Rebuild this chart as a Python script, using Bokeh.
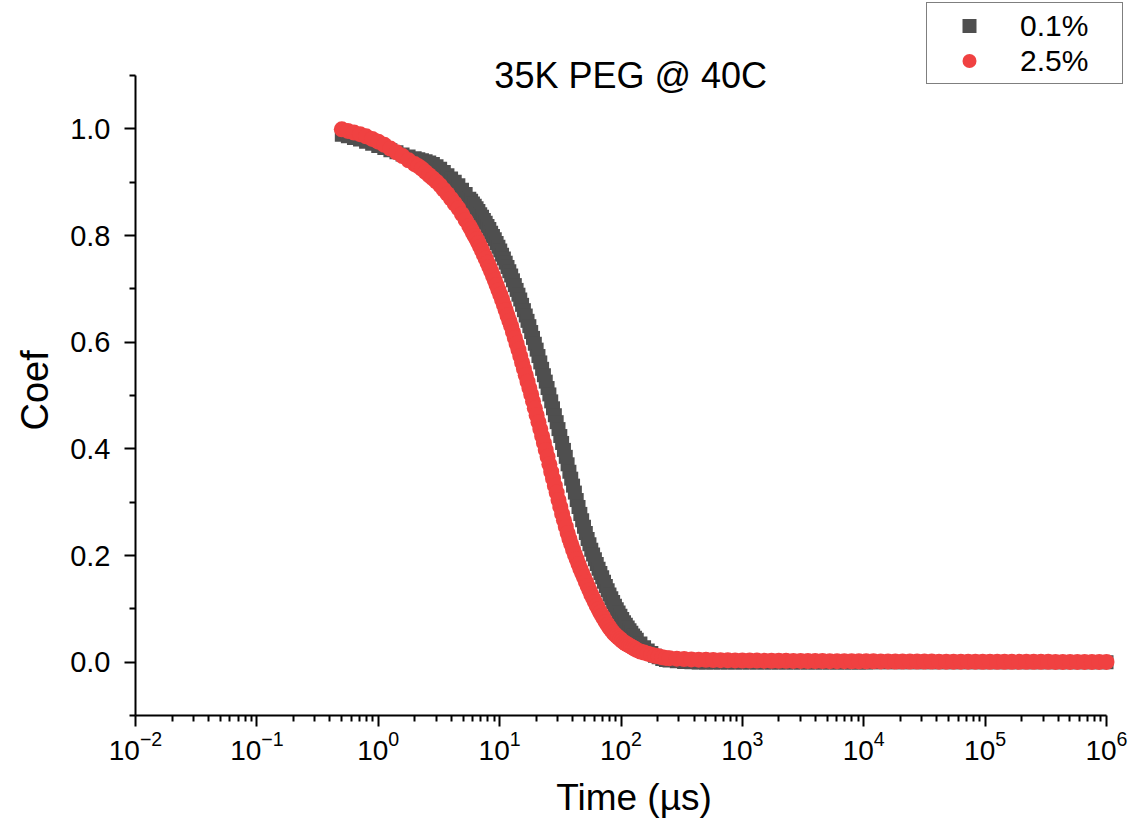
from bokeh.plotting import figure
from bokeh.models import (ColumnDataSource, FixedTicker, Legend, LegendItem,
                          Label, Title, PrintfTickFormatter)
from bokeh.embed import file_html
from bokeh.resources import INLINE

# ---------------------------------------------------------------- data
# correlator lag times (µs), shared by both samples
time_us = [
    0.501, 0.562, 0.631, 0.708, 0.794, 0.891, 1.000, 1.122, 1.259, 1.413, 1.585, 1.778,
    1.995, 2.138, 2.291, 2.455, 2.630, 2.818, 3.020, 3.236, 3.467, 3.715,
    3.981, 4.266, 4.571, 4.898, 5.248,
    5.623, 5.821, 6.026, 6.237, 6.457, 6.683, 6.918, 7.161, 7.413, 7.674,
    7.943, 8.222, 8.511, 8.810, 9.120, 9.441, 9.772, 10.12, 10.47, 10.84,
    11.22, 11.61, 12.02, 12.45, 12.88, 13.34, 13.80, 14.29, 14.79, 15.31,
    15.85, 16.41, 16.98, 17.58, 18.20, 18.84, 19.50, 20.18, 20.89, 21.63,
    22.39, 23.17, 23.99, 24.83, 25.70, 26.61, 27.54, 28.51, 29.51, 30.55,
    31.62, 32.73, 33.88, 35.08, 36.31, 37.58, 38.90, 40.27, 41.69, 43.15,
    44.67, 46.24, 47.86, 49.55, 51.29, 53.09, 54.95, 56.89, 58.88, 60.95,
    63.10, 65.31, 67.61, 69.98, 72.44, 74.99, 77.62, 80.35, 83.18, 86.10,
    89.13, 92.26, 95.50, 98.86, 102.3, 105.9, 109.6, 113.5, 117.5, 121.6,
    125.9, 130.3, 134.9,
    144.5, 154.9, 166.0, 177.8, 190.5, 204.2, 218.8, 234.4,
    251.2, 288.4, 331.1, 380.2, 436.5, 501.2, 575.4, 660.7, 758.6, 871.0,
    1000, 1148, 1318, 1514, 1738, 1995, 2291, 2630, 3020, 3467,
    3981, 4571, 5248, 6026, 6918, 7943, 9120, 10470, 12020, 13800,
    15850, 18200, 20890, 23990, 27540, 31620, 36310, 41690, 47860, 54950,
    63100, 72440, 83180, 95500, 109600, 125900, 144500, 166000, 190500, 218800,
    251200, 288400, 331100, 380200, 436500, 501200, 575400, 660700, 758600, 871000,
    1000000,
]

# correlation coefficient, 0.1 % PEG
coef_01 = [
    0.989, 0.986, 0.983, 0.980, 0.976, 0.972, 0.968, 0.964, 0.960, 0.956, 0.952, 0.948,
    0.945, 0.943, 0.941, 0.939, 0.937, 0.934, 0.930, 0.925, 0.919, 0.913,
    0.907, 0.901, 0.894, 0.886, 0.878,
    0.869, 0.865, 0.860, 0.856, 0.851, 0.846, 0.840, 0.835, 0.829, 0.824,
    0.818, 0.812, 0.805, 0.799, 0.793, 0.786, 0.779, 0.772, 0.764, 0.757,
    0.749, 0.741, 0.733, 0.725, 0.716, 0.707, 0.698, 0.689, 0.680, 0.670,
    0.660, 0.650, 0.640, 0.630, 0.619, 0.608, 0.597, 0.586, 0.574, 0.562,
    0.550, 0.538, 0.526, 0.514, 0.502, 0.489, 0.476, 0.463, 0.450, 0.437,
    0.424, 0.411, 0.398, 0.385, 0.371, 0.357, 0.344, 0.331, 0.318, 0.304,
    0.291, 0.278, 0.266, 0.254, 0.242, 0.231, 0.221, 0.211, 0.202, 0.193,
    0.184, 0.175, 0.167, 0.159, 0.151, 0.143, 0.135, 0.127, 0.120, 0.113,
    0.106, 0.099, 0.093, 0.087, 0.081, 0.075, 0.070, 0.065, 0.060, 0.055,
    0.050, 0.046, 0.042,
    0.035, 0.028, 0.022, 0.017, 0.012, 0.009, 0.006, 0.004,
    0.0030, 0.0015, 0.0005, 0.0000, -0.0004, -0.0006, -0.0007, -0.0008, -0.0008, -0.0008,
    -0.0008, -0.0007, -0.0007, -0.0007, -0.0006, -0.0006, -0.0006, -0.0006, -0.0005, -0.0005,
    -0.0005, -0.0005, -0.0005, -0.0004, -0.0004, -0.0004, -0.0004, -0.0004, -0.0003, -0.0003,
    -0.0003, -0.0003, -0.0003, -0.0003, -0.0002, -0.0002, -0.0002, -0.0002, -0.0002, -0.0002,
    -0.0002, -0.0001, -0.0001, -0.0001, -0.0001, -0.0001, -0.0001, -0.0001, 0.0000, 0.0000,
    0.0000, 0.0000, 0.0000, 0.0000, 0.0000, 0.0000, 0.0000, 0.0000, 0.0000, 0.0000,
    0.0000,
]

# correlation coefficient, 2.5 % PEG
coef_25 = [
    0.999, 0.996, 0.993, 0.990, 0.986, 0.981, 0.976, 0.970, 0.963, 0.956, 0.949, 0.941,
    0.934, 0.930, 0.925, 0.919, 0.913, 0.907, 0.901, 0.894, 0.886, 0.878,
    0.869, 0.860, 0.851, 0.840, 0.829,
    0.818, 0.812, 0.805, 0.799, 0.793, 0.786, 0.779, 0.772, 0.764, 0.757,
    0.749, 0.741, 0.733, 0.725, 0.716, 0.707, 0.698, 0.689, 0.680, 0.670,
    0.660, 0.650, 0.640, 0.630, 0.619, 0.608, 0.597, 0.586, 0.574, 0.562,
    0.550, 0.538, 0.526, 0.514, 0.502, 0.489, 0.476, 0.463, 0.450, 0.437,
    0.424, 0.411, 0.398, 0.385, 0.371, 0.357, 0.344, 0.331, 0.318, 0.304,
    0.291, 0.278, 0.266, 0.254, 0.242, 0.231, 0.221, 0.211, 0.202, 0.193,
    0.184, 0.175, 0.167, 0.159, 0.151, 0.143, 0.135, 0.127, 0.120, 0.113,
    0.106, 0.099, 0.093, 0.087, 0.081, 0.075, 0.070, 0.065, 0.060, 0.056,
    0.052, 0.049, 0.046, 0.043, 0.040, 0.037, 0.035, 0.033, 0.031, 0.029,
    0.027, 0.025, 0.023,
    0.020, 0.018, 0.016, 0.014, 0.012, 0.011, 0.009, 0.008,
    0.0075, 0.0066, 0.0058, 0.0052, 0.0047, 0.0043, 0.0040, 0.0037, 0.0035, 0.0033,
    0.0031, 0.0030, 0.0029, 0.0028, 0.0027, 0.0026, 0.0025, 0.0024, 0.0023, 0.0022,
    0.0021, 0.0020, 0.0019, 0.0019, 0.0018, 0.0017, 0.0016, 0.0016, 0.0015, 0.0014,
    0.0014, 0.0013, 0.0013, 0.0012, 0.0012, 0.0011, 0.0011, 0.0010, 0.0010, 0.0010,
    0.0009, 0.0009, 0.0009, 0.0008, 0.0008, 0.0008, 0.0007, 0.0007, 0.0007, 0.0006,
    0.0006, 0.0006, 0.0006, 0.0005, 0.0005, 0.0005, 0.0005, 0.0004, 0.0004, 0.0004,
    0.0004,
]

series_labels = ["0.1%", "2.5%"]
x_tick_exponents = [-2, -1, 0, 1, 2, 3, 4, 5, 6]
y_ticks = [0.0, 0.2, 0.4, 0.6, 0.8, 1.0]
y_minor_ticks = [-0.1, 0.1, 0.3, 0.5, 0.7, 0.9, 1.1]
x_axis_span = (1e-2, 1e6)
y_axis_span = (-0.1, 1.1)

title_text = "35K PEG @ 40C"
x_label = "Time (µs)"
y_label = "Coef"

# ---------------------------------------------------------------- layout
W, H = 1132, 822
LEFT, BOTTOM = 135, 107            # space for the axes
AXIS_W, AXIS_H = 971, 640          # drawn length of the two axes (px)
FONT = "Liberation Sans"
GRAY = "#4f4f4f"
RED = "#f04141"

# The plotting frame runs up to the top and right edges so the title and
# legend can sit over it; the axes themselves stop at their spans (bounds).
frame_w, frame_h = W - LEFT, H - BOTTOM
decades = 8.0 * frame_w / AXIS_W
x_end = 10 ** (-2 + decades)
y_end = y_axis_span[0] + (y_axis_span[1] - y_axis_span[0]) * frame_h / AXIS_H

p = figure(width=W, height=H, x_axis_type="log",
           x_range=(x_axis_span[0], x_end), y_range=(y_axis_span[0], y_end),
           output_backend="svg", toolbar_location=None,
           min_border_left=LEFT, min_border_right=0,
           min_border_top=0, min_border_bottom=BOTTOM)
p.xgrid.visible = False
p.ygrid.visible = False
p.outline_line_color = None
p.background_fill_color = "white"
p.border_fill_color = "white"

src = ColumnDataSource(dict(t=time_us, a=coef_01, b=coef_25))
r_a = p.scatter("t", "a", source=src, marker="square", size=14,
                fill_color=GRAY, line_color=None)
r_b = p.scatter("t", "b", source=src, marker="circle", size=16,
                fill_color=RED, line_color=None)

# ---------------------------------------------------------------- axes
for ax in (p.xaxis[0], p.yaxis[0]):
    ax.axis_line_color = "black"
    ax.axis_line_width = 2
    ax.major_tick_line_color = "black"
    ax.major_tick_line_width = 2
    ax.minor_tick_line_color = "black"
    ax.minor_tick_line_width = 2
    ax.major_tick_in = 0
    ax.major_tick_out = 11
    ax.minor_tick_in = 0
    ax.minor_tick_out = 6
    ax.axis_label_text_font = FONT
    ax.axis_label_text_font_style = "normal"
    ax.axis_label_text_color = "black"
    ax.major_label_text_font = FONT
    ax.major_label_text_color = "black"

xa = p.xaxis[0]
xa.bounds = x_axis_span
xa.ticker = FixedTicker(
    ticks=[10.0 ** k for k in x_tick_exponents],
    minor_ticks=[m * 10.0 ** k for k in x_tick_exponents[:-1] for m in range(2, 10)])
xa.major_label_text_font_size = "28px"
xa.major_label_standoff = 4
xa.axis_label = x_label
xa.axis_label_text_font_size = "37px"
xa.axis_label_standoff = 14

ya = p.yaxis[0]
ya.bounds = y_axis_span
ya.ticker = FixedTicker(ticks=y_ticks, minor_ticks=y_minor_ticks)
ya.formatter = PrintfTickFormatter(format="%.1f")
ya.major_label_text_font_size = "29px"
ya.major_label_standoff = 14

# y-axis title, centred on the drawn span of the axis rather than the frame
p.add_layout(Title(text=y_label, align="left", vertical_align="middle",
                   offset=285, standoff=22,
                   text_font=FONT, text_font_size="38px",
                   text_font_style="normal", text_color="black"), "left")

# ---------------------------------------------------------------- title
p.add_layout(Label(x=10 ** 2.08, y=y_axis_span[1], text=title_text,
                   text_align="center", text_baseline="middle",
                   text_font=FONT, text_font_size="36px", text_color="black"))

# ---------------------------------------------------------------- legend
legend = Legend(
    items=[LegendItem(label=series_labels[0], renderers=[r_a]),
           LegendItem(label=series_labels[1], renderers=[r_b])],
    location=(791, 631),
    border_line_color="black", border_line_width=1.5,
    background_fill_color="white", background_fill_alpha=1.0,
    padding=5, spacing=0, margin=0,
    glyph_width=74, glyph_height=35, label_height=35, label_width=97,
    label_standoff=14,
    label_text_font=FONT, label_text_font_size="30px",
    label_text_color="black",
)
p.add_layout(legend)

open("out.html", "w").write(file_html(p, INLINE))
